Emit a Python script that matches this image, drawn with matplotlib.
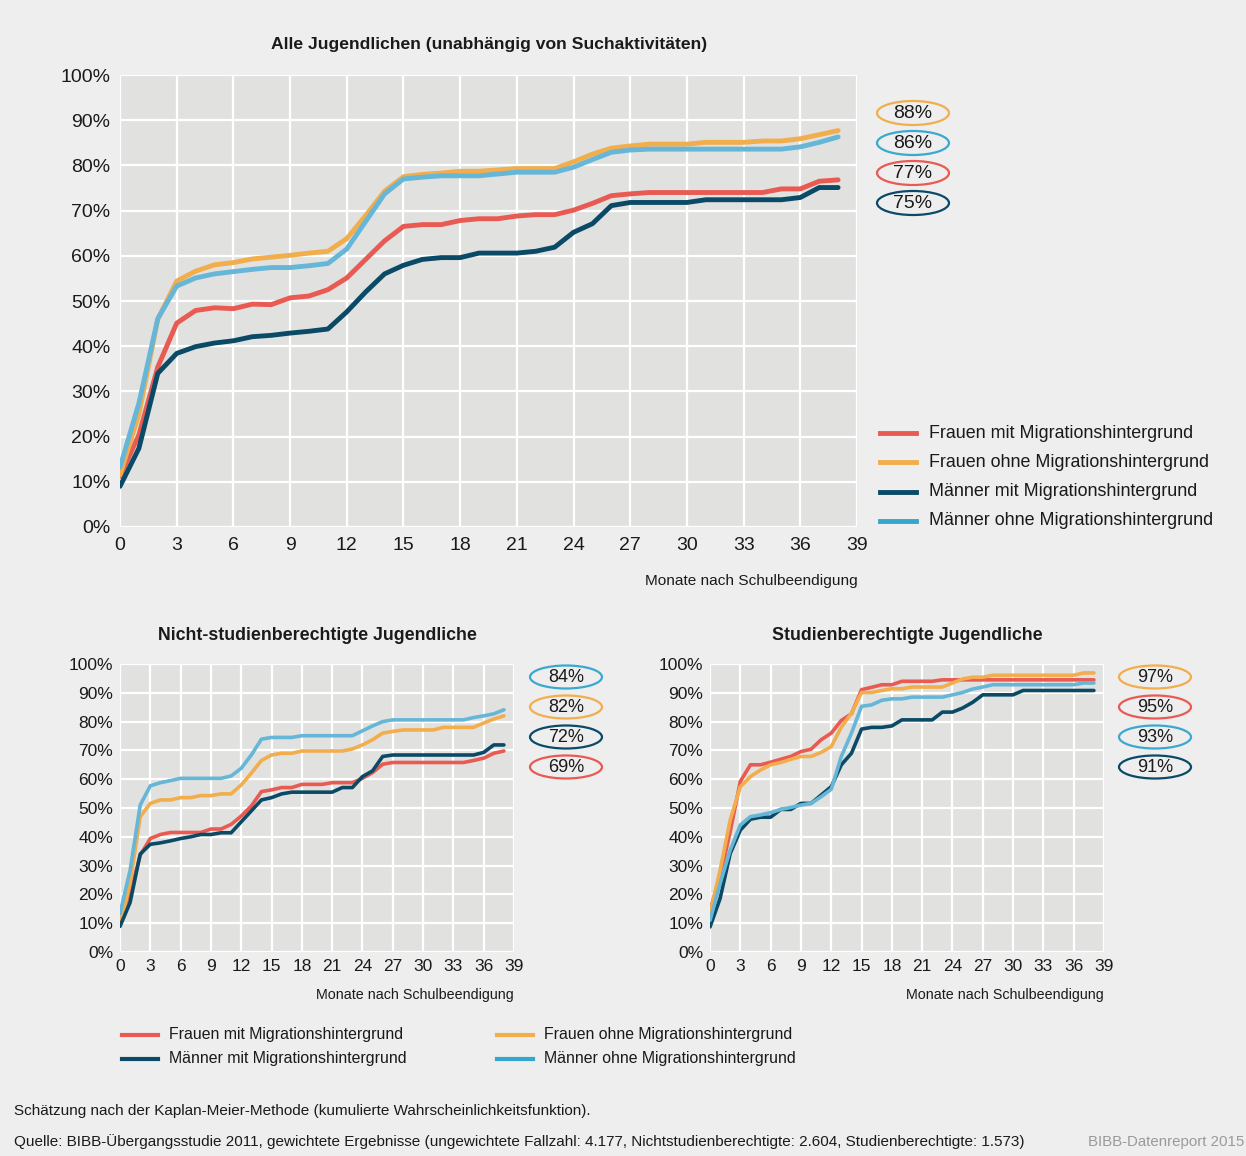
import matplotlib
matplotlib.use("Agg")
import matplotlib.pyplot as plt
from matplotlib.patches import Ellipse

plt.rcParams['font.family'] = ['Liberation Sans', 'DejaVu Sans']

months = list(range(0, 39))

# --- Alle Jugendlichen ---
all_fm = [11.2, 20.4, 35.4, 45.1, 47.9, 48.5, 48.3, 49.3, 49.2, 50.7, 51.1, 52.5, 55.1, 59.2, 63.3, 66.5, 66.9, 66.9, 67.8, 68.2,
          68.2, 68.8, 69.1, 69.1, 70.1, 71.6, 73.3, 73.7, 74.0, 74.0, 74.0, 74.0, 74.0, 74.0, 74.0, 74.8, 74.8, 76.5, 76.8]
all_fo = [11.5, 25.0, 46.0, 54.4, 56.6, 58.0, 58.5, 59.3, 59.7, 60.1, 60.6, 61.0, 63.8, 68.9, 74.3, 77.5, 78.0, 78.3, 78.7, 78.7,
          79.0, 79.3, 79.3, 79.3, 80.8, 82.5, 83.8, 84.3, 84.7, 84.7, 84.7, 85.1, 85.1, 85.1, 85.4, 85.4, 85.9, 86.8, 87.7]
all_mm = [9.0, 17.4, 34.0, 38.4, 39.9, 40.7, 41.2, 42.1, 42.4, 42.9, 43.3, 43.8, 47.6, 52.0, 56.0, 57.9, 59.2, 59.6, 59.6, 60.6,
          60.6, 60.6, 61.0, 61.9, 65.2, 67.1, 71.1, 71.8, 71.8, 71.8, 71.8, 72.4, 72.4, 72.4, 72.4, 72.4, 72.9, 75.1, 75.1]
all_mo = [13.2, 27.4, 46.1, 53.3, 55.1, 56.0, 56.5, 57.0, 57.4, 57.4, 57.8, 58.3, 61.5, 67.6, 73.7, 77.0, 77.4, 77.7, 77.7, 77.7,
          78.1, 78.5, 78.5, 78.5, 79.6, 81.3, 82.9, 83.4, 83.6, 83.6, 83.6, 83.6, 83.6, 83.6, 83.6, 83.6, 84.1, 85.1, 86.3]

# --- Nicht-studienberechtigte Jugendliche ---
ns_fm = [9.9, 20.3, 33.6, 39.4, 40.8, 41.5, 41.5, 41.5, 41.5, 42.7, 42.7, 44.3, 47.2, 50.7, 55.7, 56.3, 57.1, 57.1, 58.2, 58.2,
         58.2, 58.8, 58.8, 58.8, 60.3, 62.3, 65.2, 65.8, 65.8, 65.8, 65.8, 65.8, 65.8, 65.8, 65.8, 66.5, 67.3, 69.0, 69.8]
ns_fo = [9.3, 23.8, 47.0, 51.6, 52.8, 52.8, 53.6, 53.6, 54.3, 54.3, 54.9, 54.9, 58.0, 62.1, 66.5, 68.4, 69.0, 69.0, 69.8, 69.8,
         69.8, 69.8, 69.8, 70.5, 71.9, 73.7, 76.0, 76.6, 77.1, 77.1, 77.1, 77.1, 78.0, 78.0, 78.0, 78.0, 79.5, 80.9, 82.0]
ns_mm = [8.9, 17.2, 34.0, 37.4, 37.9, 38.6, 39.4, 40.0, 40.8, 40.8, 41.4, 41.4, 45.2, 49.0, 52.8, 53.6, 54.9, 55.5, 55.5, 55.5,
         55.5, 55.5, 57.1, 57.1, 60.9, 62.9, 67.9, 68.4, 68.4, 68.4, 68.4, 68.4, 68.4, 68.4, 68.4, 68.4, 69.3, 71.9, 71.9]
ns_mo = [13.3, 28.4, 51.0, 57.7, 58.8, 59.5, 60.3, 60.3, 60.3, 60.3, 60.3, 61.1, 63.8, 68.4, 73.9, 74.5, 74.5, 74.5, 75.1, 75.1,
         75.1, 75.1, 75.1, 75.1, 76.8, 78.5, 80.0, 80.6, 80.6, 80.6, 80.6, 80.6, 80.6, 80.6, 80.6, 81.4, 82.0, 82.7, 84.1]

# --- Studienberechtigte Jugendliche ---
st_fm = [14.5, 26.1, 41.8, 59.2, 65.0, 65.0, 65.9, 66.9, 67.9, 69.6, 70.4, 73.7, 76.0, 80.4, 82.7, 91.1, 91.9, 92.8, 92.8, 94.0,
         94.0, 94.0, 94.0, 94.5, 94.5, 94.5, 94.5, 94.5, 94.5, 94.5, 94.5, 94.5, 94.5, 94.5, 94.5, 94.5, 94.5, 94.5, 94.5]
st_fo = [13.3, 28.4, 45.8, 57.4, 60.9, 63.2, 65.0, 65.8, 66.9, 67.9, 67.9, 69.3, 71.3, 78.1, 82.9, 90.1, 90.1, 90.8, 91.4, 91.4,
         92.0, 92.0, 92.0, 92.0, 93.4, 94.8, 95.4, 95.4, 96.1, 96.1, 96.1, 96.1, 96.1, 96.1, 96.1, 96.1, 96.1, 96.9, 96.9]
st_mm = [8.7, 18.6, 34.2, 42.3, 46.1, 46.8, 46.8, 49.5, 49.5, 51.6, 51.6, 54.5, 57.4, 65.0, 69.0, 77.4, 78.0, 78.0, 78.5, 80.6,
         80.6, 80.6, 80.6, 83.3, 83.3, 84.7, 86.7, 89.3, 89.3, 89.3, 89.3, 90.8, 90.8, 90.8, 90.8, 90.8, 90.8, 90.8, 90.8]
st_mo = [11.0, 23.8, 35.4, 44.1, 47.0, 47.6, 48.4, 49.5, 50.2, 51.0, 51.6, 53.9, 56.5, 67.9, 76.0, 85.3, 85.8, 87.4, 87.9, 87.9,
         88.5, 88.5, 88.5, 88.5, 89.3, 90.1, 91.3, 92.0, 92.8, 92.8, 92.8, 92.8, 92.8, 92.8, 92.8, 92.8, 92.8, 93.4, 93.4]

series_names = ["Frauen mit Migrationshintergrund", "Frauen ohne Migrationshintergrund",
                "Männer mit Migrationshintergrund", "Männer ohne Migrationshintergrund"]

# end labels (text, series index), top to bottom
all_labels = [("88%", 1), ("86%", 3), ("77%", 0), ("75%", 2)]
ns_labels = [("84%", 3), ("82%", 1), ("72%", 2), ("69%", 0)]
st_labels = [("97%", 1), ("95%", 0), ("93%", 3), ("91%", 2)]

titles = ["Alle Jugendlichen (unabhängig von Suchaktivitäten)",
          "Nicht-studienberechtigte Jugendliche",
          "Studienberechtigte Jugendliche"]
xlabel = "Monate nach Schulbeendigung"
xticks = list(range(0, 40, 3))
yticks = list(range(0, 101, 10))
ytick_labels = [f"{v}%" for v in yticks]

footnote1 = "Schätzung nach der Kaplan-Meier-Methode (kumulierte Wahrscheinlichkeitsfunktion)."
footnote2 = ("Quelle: BIBB-Übergangsstudie 2011, gewichtete Ergebnisse (ungewichtete Fallzahl: 4.177, "
             "Nichtstudienberechtigte: 2.604, Studienberechtigte: 1.573)")
source_right = "BIBB-Datenreport 2015"

# styles
colors = ["#e85a52", "#f2ad4c", "#0b4a66", "#66b6d8"]
legend_colors = ["#e85a52", "#f2ad4c", "#0b4a66", "#35a6cc"]
ell_colors = ["#e85a52", "#f2ad4c", "#0b4a66", "#3aa8cf"]
BG = "#eeeeee"
PLOT_BG = "#e1e1df"
TXT = "#1a1a1a"

W, H = 1246, 1156
fig = plt.figure(figsize=(W / 100, H / 100), dpi=100, facecolor=BG)


def ax_rect(left, top, right, bottom):
    return [left / W, 1 - bottom / H, (right - left) / W, (bottom - top) / H]


def setup_axes(ax, fs, pad):
    ax.set_facecolor(PLOT_BG)
    ax.set_xlim(0, 39)
    ax.set_ylim(0, 100)
    ax.set_xticks(xticks)
    ax.set_yticks(yticks)
    ax.set_yticklabels(ytick_labels)
    ax.tick_params(length=0, labelsize=fs, colors=TXT, pad=pad)
    ax.grid(True, color="white", linewidth=1.6)
    ax.set_axisbelow(True)
    for s in ax.spines.values():
        s.set_visible(False)


def draw_ellipses(cx_px, ys_px, labels, w_px, h_px, fs):
    for (txt, idx), y in zip(labels, ys_px):
        e = Ellipse((cx_px / W, 1 - y / H), w_px / W, h_px / H, transform=fig.transFigure,
                    facecolor="none", edgecolor=ell_colors[idx], linewidth=1.6)
        fig.add_artist(e)
        fig.text(cx_px / W, 1 - y / H, txt, ha="center", va="center", fontsize=fs, color=TXT)


# ---- top chart ----
ax1 = fig.add_axes(ax_rect(120, 75, 857, 527))
setup_axes(ax1, 14, 7)
for data, c in zip([all_fm, all_fo, all_mm, all_mo], colors):
    ax1.plot(months, data, color=c, linewidth=3.5, solid_capstyle="round", solid_joinstyle="round")
fig.text(489 / W, 1 - 45 / H, titles[0], ha="center", va="center", fontsize=12.6, fontweight="bold", color=TXT)
fig.text(858 / W, 1 - 581 / H, xlabel, ha="right", va="center", fontsize=11.1, color=TXT)
draw_ellipses(913, [113, 143, 173, 203], all_labels, 72, 24, 14)

# top legend
for i, (name, c) in enumerate(zip(series_names, legend_colors)):
    y = 433 + i * 29.3
    fig.add_artist(plt.Line2D([880 / W, 916 / W], [1 - y / H, 1 - y / H], color=c, linewidth=3.5,
                              transform=fig.transFigure))
    fig.text(929 / W, 1 - y / H, name, ha="left", va="center", fontsize=12.9, color=TXT)

# ---- bottom left ----
ax2 = fig.add_axes(ax_rect(120, 664, 514, 952))
setup_axes(ax2, 12.5, 5)
for data, c in zip([ns_fm, ns_fo, ns_mm, ns_mo], colors):
    ax2.plot(months, data, color=c, linewidth=2.6, solid_capstyle="round", solid_joinstyle="round")
fig.text(317 / W, 1 - 636 / H, titles[1], ha="center", va="center", fontsize=12.8, fontweight="bold", color=TXT)
fig.text(514 / W, 1 - 995 / H, xlabel, ha="right", va="center", fontsize=10.3, color=TXT)
draw_ellipses(566, [677, 707, 737, 767], ns_labels, 72, 23, 13)

# ---- bottom right ----
ax3 = fig.add_axes(ax_rect(710, 664, 1104, 952))
setup_axes(ax3, 12.5, 5)
for data, c in zip([st_fm, st_fo, st_mm, st_mo], colors):
    ax3.plot(months, data, color=c, linewidth=2.6, solid_capstyle="round", solid_joinstyle="round")
fig.text(907 / W, 1 - 636 / H, titles[2], ha="center", va="center", fontsize=12.8, fontweight="bold", color=TXT)
fig.text(1104 / W, 1 - 995 / H, xlabel, ha="right", va="center", fontsize=10.3, color=TXT)
draw_ellipses(1155, [677, 707, 737, 767], st_labels, 72, 23, 13)

# ---- bottom legend ----
pos = [(122, 1035), (497, 1035), (122, 1059), (497, 1059)]
for (x, y), i in zip(pos, [0, 1, 2, 3]):
    fig.add_artist(plt.Line2D([x / W, (x + 36) / W], [1 - y / H, 1 - y / H], color=legend_colors[i],
                              linewidth=3.0, transform=fig.transFigure))
    fig.text((x + 47) / W, 1 - y / H, series_names[i], ha="left", va="center", fontsize=11.4, color=TXT)

# ---- footnotes ----
fig.text(14 / W, 1 - 1111 / H, footnote1, ha="left", va="center", fontsize=11, color=TXT)
fig.text(14 / W, 1 - 1142 / H, footnote2, ha="left", va="center", fontsize=11, color=TXT)
fig.text(1244 / W, 1 - 1142 / H, source_right, ha="right", va="center", fontsize=10.8, color="#9a9a9a")

fig.savefig("out.png", dpi=100, facecolor=BG)
